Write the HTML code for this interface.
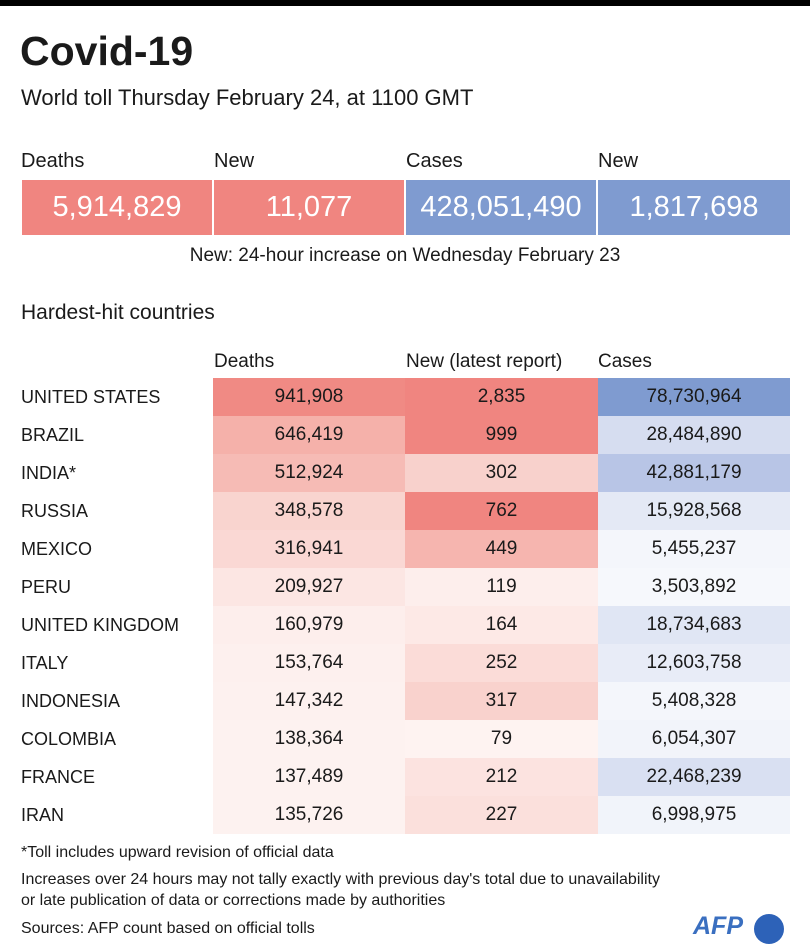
<!DOCTYPE html>
<html><head><meta charset="utf-8"><style>
*{margin:0;padding:0;box-sizing:border-box}
body{width:810px;height:950px;background:#fff;font-family:"Liberation Sans Narrow","Liberation Sans",sans-serif;color:#1a1a1a;position:relative;overflow:hidden}
.a{position:absolute;white-space:nowrap}
.bar{left:0;top:0;width:810px;height:6px;background:#000}
.box{position:absolute;top:180px;height:55px;color:#fff;font-size:29px;text-align:center;line-height:55px}
.cell{position:absolute;height:38px;line-height:38px;text-align:center;font-size:19px}
.lab{font-size:19px}
</style></head><body>
<div class="a bar"></div>
<div class="a" style="left:20px;top:28px;font-size:41px;font-weight:bold;font-family:'Liberation Sans Narrow','Liberation Sans',sans-serif">Covid-19</div>
<div class="a" style="left:21px;top:85px;font-size:22px">World toll Thursday February 24, at 1100 GMT</div>
<div class="a" style="left:21px;top:150px;font-size:20px">Deaths</div>
<div class="a" style="left:214px;top:150px;font-size:20px">New</div>
<div class="a" style="left:406px;top:150px;font-size:20px">Cases</div>
<div class="a" style="left:598px;top:150px;font-size:20px">New</div>
<div class="box" style="left:22px;width:190px;background:#f08580">5,914,829</div>
<div class="box" style="left:214px;width:190px;background:#f08580">11,077</div>
<div class="box" style="left:406px;width:190px;background:#7f9bd0">428,051,490</div>
<div class="box" style="left:598px;width:192px;background:#7f9bd0">1,817,698</div>
<div class="a" style="left:0;width:810px;text-align:center;top:245px;font-size:19px">New: 24-hour increase on Wednesday February 23</div>
<div class="a" style="left:21px;top:301px;font-size:21px">Hardest-hit countries</div>
<div class="a lab" style="left:214px;top:351px">Deaths</div>
<div class="a lab" style="left:406px;top:351px">New (latest report)</div>
<div class="a lab" style="left:598px;top:351px">Cases</div>
<div id="t"></div>
<div class="a" style="left:21px;top:844px;font-size:16px">*Toll includes upward revision of official data</div>
<div class="a" style="left:21px;top:869px;font-size:16px;line-height:21px">Increases over 24 hours may not tally exactly with previous day's total due to unavailability<br>or late publication of data or corrections made by authorities</div>
<div class="a" style="left:21px;top:920px;font-size:16px">Sources: AFP count based on official tolls</div>
<div class="a" style="left:693px;top:912px;font-size:25px;font-weight:bold;font-style:italic;color:#3a6fc0;font-family:'Liberation Sans',sans-serif">AFP</div>
<div class="a" style="left:754px;top:914px;width:30px;height:30px;border-radius:50%;background:#2d62b8"></div>
<script>
var rows=[
["UNITED STATES","941,908","#f08a84","2,835","#f08580","78,730,964","#7f9bd0"],
["BRAZIL","646,419","#f5b1aa","999","#f08580","28,484,890","#d6ddf0"],
["INDIA*","512,924","#f6bbb5","302","#f8d1cc","42,881,179","#b8c5e6"],
["RUSSIA","348,578","#f9d4cf","762","#f08580","15,928,568","#e4e9f5"],
["MEXICO","316,941","#fad8d4","449","#f6b5af","5,455,237","#f4f6fb"],
["PERU","209,927","#fce6e3","119","#fdeeec","3,503,892","#f6f8fc"],
["UNITED KINGDOM","160,979","#fdeeec","164","#fde9e6","18,734,683","#e0e6f4"],
["ITALY","153,764","#fdf0ee","252","#fbdcd8","12,603,758","#e8ecf7"],
["INDONESIA","147,342","#fdf1ef","317","#f9d2cd","5,408,328","#f4f6fb"],
["COLOMBIA","138,364","#fdf2f0","79","#fef3f1","6,054,307","#f2f4fa"],
["FRANCE","137,489","#fdf2f0","212","#fce3e0","22,468,239","#d9e0f2"],
["IRAN","135,726","#fdf2f0","227","#fbe0dc","6,998,975","#f1f4fa"]];
var h="";
rows.forEach(function(r,i){var y=378+i*38;
h+='<div class="cell" style="left:21px;top:'+y+'px;text-align:left;font-size:18px">'+r[0]+'</div>';
h+='<div class="cell" style="left:213px;width:192px;top:'+y+'px;background:'+r[2]+'">'+r[1]+'</div>';
h+='<div class="cell" style="left:405px;width:193px;top:'+y+'px;background:'+r[4]+'">'+r[3]+'</div>';
h+='<div class="cell" style="left:598px;width:192px;top:'+y+'px;background:'+r[6]+'">'+r[5]+'</div>';});
document.getElementById("t").innerHTML=h;
</script>
</body></html>
